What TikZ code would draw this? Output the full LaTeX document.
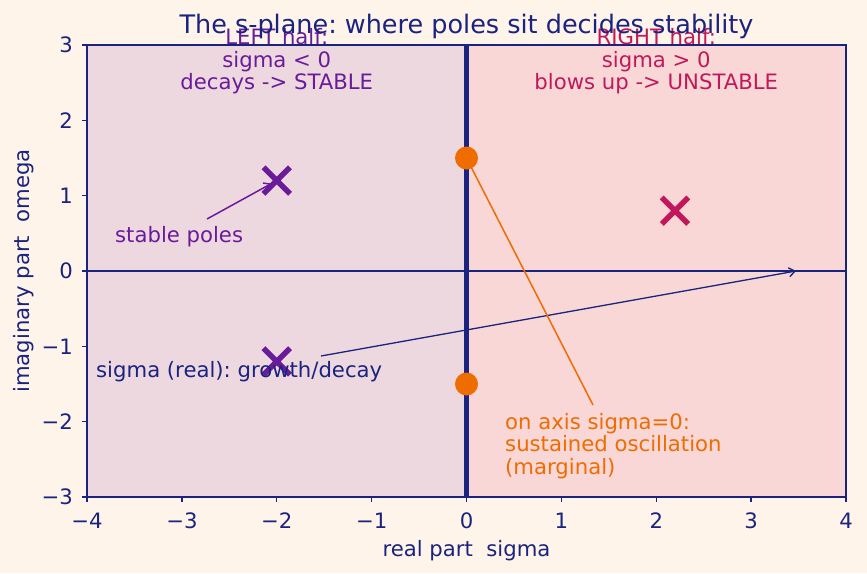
\documentclass[tikz,border=0pt]{standalone}
\usepackage{fontspec}
\setmainfont{DejaVu Sans}
\usetikzlibrary{arrows.meta,shapes.misc}
\frenchspacing
\definecolor{bgc}{HTML}{FFF4E9}
\definecolor{leftc}{HTML}{EDD8DF}
\definecolor{rightc}{HTML}{F8D7D6}
\definecolor{navy}{HTML}{1A237E}
\definecolor{purp}{HTML}{6A1B9A}
\definecolor{crim}{HTML}{C2185B}
\definecolor{orng}{HTML}{EF6C00}
\tikzset{
  txt/.style={font=\fontsize{21.2}{22.7}\selectfont, inner sep=0pt},
  ttl/.style={font=\fontsize{25.5}{30}\selectfont, inner sep=0pt, text=navy},
  pole/.style={cross out, draw=#1, line width=5.5pt, minimum size=21pt, inner sep=0pt},
  zero/.style={circle, fill=orng, minimum size=23pt, inner sep=0pt},
  arr/.style={line width=1.5pt, -{Straight Barb[length=6pt,width=9pt]}},
  spine/.style={draw=navy, line width=1.4pt},
  tick/.style={draw=navy, line width=1.4pt}
}
\begin{document}
\begin{tikzpicture}[x=1pt,y=-1pt]
% background and bounding box
\fill[bgc] (0,0) rectangle (867,573);
\useasboundingbox (0,0) rectangle (867,573);
% half planes
\fill[leftc] (87,45) rectangle (466.5,497);
\fill[rightc] (466.5,45) rectangle (846,497);
% axes lines
\coordinate (hl) at (87,271);
\coordinate (hr) at (846,271);
\coordinate (vt) at (466.5,45);
\coordinate (vb) at (466.5,497);
\draw[navy, line width=1.8pt] (hl) -- (hr);
\draw[navy, line width=4.5pt] (vt) -- (vb);
% spines
\draw[spine] (87,45) rectangle (846,497);
% ticks and labels
\foreach \k/\t in {-4/−4,-3/−3,-2/−2,-1/−1,0/0,1/1,2/2,3/3,4/4}{
  \draw[tick] (466.5+94.875*\k,497) -- ++(0,5);
  \node[txt, text=navy, anchor=base] (xt\k) at (466.5+94.875*\k,528) {\t};
}
\foreach \k/\t in {-3/−3,-2/−2,-1/−1,0/0,1/1,2/2,3/3}{
  \draw[tick] (87,271-75.333*\k) -- ++(-5,0);
  \node[txt, text=navy, anchor=east] (yt\k) at (73,271-75.333*\k) {\t};
}
\node[txt, text=navy, anchor=base] (xlab) at (466.5,556) {real part\ \ sigma};
\node[txt, text=navy, rotate=90] (ylab) at (24,271) {imaginary part\ \ omega};
% poles and zeros
\node[pole=purp] (p1) at (276.75,180.6) {};
\node[pole=purp] (p2) at (276.75,361.4) {};
\node[pole=crim] (p3) at (675,210.7) {};
\node[zero] (z1) at (466.5,158) {};
\node[zero] (z2) at (466.5,384) {};
% annotations
\node[txt, text=purp, anchor=base west] (stab) at (115,242) {stable poles};
\coordinate (stabA) at (207,219);
\draw[arr, purp, shorten >=6pt] (stabA) -- (p1.center);
\node[txt, text=navy, anchor=base west] (sig) at (96,377) {sigma (real): growth/decay};
\coordinate (sigA) at (321,356);
\coordinate (sigB) at (796,271);
\draw[arr, navy, line width=1.3pt] (sigA) -- (sigB);
\node[txt, text=orng, anchor=base west] (on1) at (505,429) {on axis sigma=0:};
\node[txt, text=orng, anchor=base west] (on2) at (505,451.7) {sustained oscillation};
\node[txt, text=orng, anchor=base west] (on3) at (505,474.4) {(marginal)};
\coordinate (onA) at (593,405);
\draw[arr, orng, shorten >=3pt] (onA) -- (z1.center);
% half-plane captions
\node[txt, text=purp, anchor=base] (l1) at (276.75,44.5) {LEFT half:};
\node[txt, text=purp, anchor=base] (l2) at (276.75,67.2) {sigma < 0};
\node[txt, text=purp, anchor=base] (l3) at (276.75,89.9) {decays -> STABLE};
\node[txt, text=crim, anchor=base] (r1) at (656.25,44.5) {RIGHT half:};
\node[txt, text=crim, anchor=base] (r2) at (656.25,67.2) {sigma > 0};
\node[txt, text=crim, anchor=base] (r3) at (656.25,89.9) {blows up -> UNSTABLE};
% title
\node[ttl, anchor=base] (title) at (466.5,33) {The s-plane: where poles sit decides stability};
\end{tikzpicture}
\end{document}
